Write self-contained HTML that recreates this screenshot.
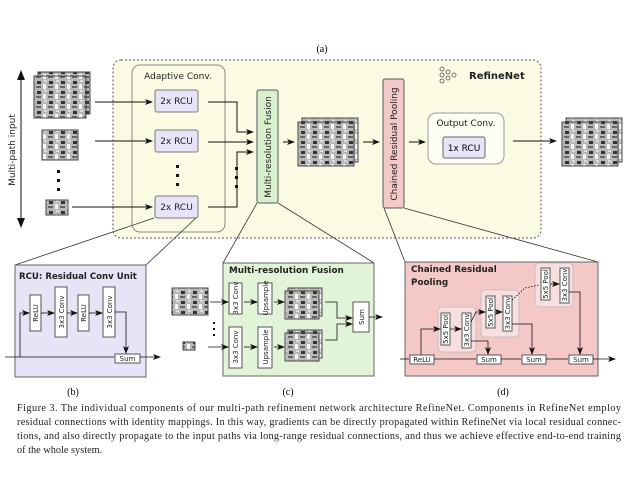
<!DOCTYPE html>
<html><head><meta charset="utf-8"><style>
html,body{margin:0;padding:0;background:#fff;}
svg{display:block;}
.s{font-family:"DejaVu Sans","Liberation Sans",sans-serif;}
.r{font-family:"Liberation Serif",serif;}
</style></head><body>
<svg width="640" height="480" viewBox="0 0 640 480" xmlns="http://www.w3.org/2000/svg">
<defs>
<marker id="a" markerWidth="8" markerHeight="6" refX="7" refY="3" orient="auto" markerUnits="userSpaceOnUse"><path d="M0,0 L8,3 L0,6 L2,3z" fill="#111"/></marker>
<pattern id="img" width="12" height="10" patternUnits="userSpaceOnUse"><rect width="12" height="10" fill="#b8b8b8"/><rect x="1" y="1" width="4" height="3" fill="#333"/><rect x="7" y="4" width="3" height="5" fill="#f4f4f4"/><rect x="0" y="6" width="5" height="2" fill="#666"/><rect x="8" y="0" width="3" height="2" fill="#ddd"/></pattern>
</defs>
<text x="322" y="52" class="r" font-size="10" text-anchor="middle">(a)</text>
<rect x="113" y="60" width="428" height="178" rx="8" fill="#fbfbe4" stroke="#555" stroke-dasharray="2,2"/>
<rect x="132" y="65" width="93" height="167" rx="8" fill="none" stroke="#888"/>
<text x="178" y="79" class="s" font-size="9" text-anchor="middle" fill="#222">Adaptive Conv.</text>
<g class="s" font-size="9" fill="#222" text-anchor="middle">
<rect x="155" y="90" width="43" height="22" rx="2" fill="#e8e4f8" stroke="#777"/><text x="176.5" y="104">2x RCU</text>
<rect x="155" y="130" width="43" height="22" rx="2" fill="#e8e4f8" stroke="#777"/><text x="176.5" y="144">2x RCU</text>
<rect x="155" y="196" width="43" height="22" rx="2" fill="#e8e4f8" stroke="#777"/><text x="176.5" y="210">2x RCU</text>
</g>
<g fill="#111"><rect x="176" y="165" width="3" height="3"/><rect x="176" y="174" width="3" height="3"/><rect x="176" y="183" width="3" height="3"/>
<rect x="235" y="167" width="3" height="3"/><rect x="235" y="176" width="3" height="3"/><rect x="235" y="185" width="3" height="3"/>
<rect x="57" y="170" width="3" height="3"/><rect x="57" y="179" width="3" height="3"/><rect x="57" y="188" width="3" height="3"/></g>
<rect x="38" y="72" width="52" height="42" fill="url(#img)" stroke="#444"/><rect x="34" y="76" width="52" height="42" fill="url(#img)" stroke="#444"/>
<rect x="42" y="130" width="36" height="30" fill="url(#img)" stroke="#444"/>
<rect x="46" y="200" width="22" height="15" fill="url(#img)" stroke="#444"/>
<g stroke="#111" fill="none" marker-end="url(#a)">
<line x1="95" y1="102" x2="152" y2="102"/><line x1="95" y1="141" x2="152" y2="141"/><line x1="72" y1="207" x2="152" y2="207"/>
<polyline points="208,102 237,102 237,132 253,132" /><line x1="208" y1="142" x2="253" y2="142"/><polyline points="208,207 237,207 237,152 253,152" />
<line x1="283" y1="142" x2="294" y2="142"/><line x1="363" y1="142" x2="379" y2="142"/><line x1="409" y1="142" x2="425" y2="142"/><line x1="513" y1="141" x2="556" y2="141"/>
</g>
<line x1="21" y1="74" x2="21" y2="224" stroke="#111"/><path d="M21,70 L17,80 L25,80z M21,228 L17,218 L25,218z" fill="#111"/>
<text transform="translate(15,150) rotate(-90)" class="s" font-size="9" text-anchor="middle" fill="#222">Multi-path input</text>
<rect x="257" y="90" width="21" height="113" rx="2" fill="#d8f0cc" stroke="#556"/>
<text transform="translate(271,147) rotate(-90)" class="s" font-size="9" text-anchor="middle" fill="#222">Multi-resolution Fusion</text>
<rect x="302" y="118" width="56" height="44" fill="url(#img)" stroke="#444"/><rect x="298" y="122" width="56" height="44" fill="url(#img)" stroke="#444"/>
<rect x="383" y="79" width="21" height="129" rx="2" fill="#f2c8c8" stroke="#655"/>
<text transform="translate(397,144) rotate(-90)" class="s" font-size="9" text-anchor="middle" fill="#222">Chained Residual Pooling</text>
<rect x="428" y="113" width="76" height="51" rx="8" fill="#fdfdf4" stroke="#999"/>
<text x="466" y="126" class="s" font-size="9" text-anchor="middle" fill="#222">Output Conv.</text>
<rect x="443" y="137" width="42" height="21" rx="2" fill="#e8e4f8" stroke="#666"/><text x="464" y="151" class="s" font-size="9" text-anchor="middle">1x RCU</text>
<g fill="none" stroke="#555" stroke-width="0.8"><circle cx="442" cy="69" r="2"/><circle cx="442" cy="75" r="2"/><circle cx="442" cy="81" r="2"/><circle cx="448" cy="72" r="2"/><circle cx="448" cy="78" r="2"/><circle cx="454" cy="75" r="2"/></g>
<text x="469" y="79" class="s" font-size="10" font-weight="bold" fill="#222">RefineNet</text>
<rect x="566" y="118" width="56" height="44" fill="url(#img)" stroke="#444"/><rect x="562" y="122" width="56" height="44" fill="url(#img)" stroke="#444"/>
<g stroke="#333" stroke-width="0.8"><line x1="154" y1="218" x2="15" y2="265"/><line x1="196" y1="218" x2="146" y2="265"/>
<line x1="257" y1="203" x2="223" y2="263"/><line x1="278" y1="203" x2="374" y2="263"/>
<line x1="384" y1="208" x2="405" y2="262"/><line x1="404" y1="208" x2="598" y2="262"/></g>
<rect x="15" y="265" width="131" height="112" fill="#e6e4f6" stroke="#666"/>
<text x="19" y="279" class="s" font-size="8.6" font-weight="bold" fill="#222">RCU: Residual Conv Unit</text>
<g class="s" font-size="7" fill="#222" text-anchor="middle">
<rect x="30" y="295" width="11" height="36" fill="#fff" stroke="#555"/><text transform="translate(38,313) rotate(-90)">ReLU</text>
<rect x="55" y="287" width="12" height="50" fill="#fff" stroke="#555"/><text transform="translate(64,312) rotate(-90)">3x3 Conv</text>
<rect x="78" y="295" width="11" height="36" fill="#fff" stroke="#555"/><text transform="translate(86,313) rotate(-90)">ReLU</text>
<rect x="103" y="287" width="12" height="50" fill="#fff" stroke="#555"/><text transform="translate(112,312) rotate(-90)">3x3 Conv</text>
<rect x="115" y="354" width="25" height="9" fill="#fff" stroke="#555"/><text x="127.5" y="361">Sum</text>
</g>
<g stroke="#111" fill="none" marker-end="url(#a)" stroke-width="0.8">
<polyline points="20,357 20,313 29,313"/><line x1="41" y1="313" x2="54" y2="313"/><line x1="67" y1="313" x2="77" y2="313"/><line x1="89" y1="313" x2="102" y2="313"/>
<polyline points="115,312 126,312 126,353"/><line x1="5" y1="357" x2="114" y2="357" marker-end="none"/><line x1="140" y1="357" x2="160" y2="357"/></g>
<text x="73" y="395" class="r" font-size="10" text-anchor="middle">(b)</text>
<rect x="172" y="288" width="36" height="27" fill="url(#img)" stroke="#444"/>
<rect x="183" y="342" width="12" height="8" fill="url(#img)" stroke="#444"/>
<g fill="#111"><rect x="213" y="322" width="2" height="2"/><rect x="213" y="328" width="2" height="2"/><rect x="213" y="334" width="2" height="2"/></g>
<rect x="223" y="263" width="151" height="113" fill="#e2f4d8" stroke="#666"/>
<text x="229" y="273" class="s" font-size="8.8" font-weight="bold" fill="#222">Multi-resolution Fusion</text>
<g class="s" font-size="7" fill="#222" text-anchor="middle">
<rect x="229" y="283" width="13" height="31" fill="#fff" stroke="#555"/><text transform="translate(238,298) rotate(-90)">3x3 Conv</text>
<rect x="229" y="327" width="13" height="41" fill="#fff" stroke="#555"/><text transform="translate(238,347) rotate(-90)">3x3 Conv</text>
<rect x="258" y="283" width="14" height="31" fill="#fff" stroke="#555"/><text transform="translate(268,298) rotate(-90)">Upsample</text>
<rect x="258" y="327" width="14" height="41" fill="#fff" stroke="#555"/><text transform="translate(268,347) rotate(-90)">Upsample</text>
<rect x="353" y="302" width="16" height="30" fill="#fff" stroke="#555"/><text transform="translate(364,317) rotate(-90)">Sum</text>
</g>
<rect x="288" y="288" width="34" height="28" fill="url(#img)" stroke="#444"/><rect x="285" y="291" width="34" height="28" fill="url(#img)" stroke="#444"/>
<rect x="288" y="330" width="34" height="28" fill="url(#img)" stroke="#444"/><rect x="285" y="333" width="34" height="28" fill="url(#img)" stroke="#444"/>
<g stroke="#111" fill="none" marker-end="url(#a)" stroke-width="0.8">
<line x1="210" y1="302" x2="228" y2="302"/><line x1="208" y1="347" x2="228" y2="347"/>
<line x1="244" y1="302" x2="257" y2="302"/><line x1="244" y1="347" x2="257" y2="347"/>
<line x1="274" y1="302" x2="284" y2="302"/><line x1="274" y1="347" x2="284" y2="347"/>
<polyline points="325,302 337,302 337,318 352,318"/><polyline points="325,340 337,340 337,324 352,324"/>
<line x1="369" y1="317" x2="382" y2="317"/></g>
<text x="288" y="395" class="r" font-size="10" text-anchor="middle">(c)</text>
<rect x="405" y="262" width="193" height="114" fill="#f5c8c8" stroke="#666"/>
<text x="411" y="272" class="s" font-size="8.8" font-weight="bold" fill="#222">Chained Residual</text>
<text x="411" y="285" class="s" font-size="8.8" font-weight="bold" fill="#222">Pooling</text>
<g fill="#f8dede" stroke="#bbb" stroke-width="0.8"><rect x="438" y="307" width="38" height="45" rx="4"/><rect x="481" y="290" width="38" height="47" rx="4"/><rect x="535" y="263" width="38" height="44" rx="4"/></g>
<g class="s" font-size="7" fill="#222" text-anchor="middle">
<rect x="441" y="313" width="9" height="32" fill="#fff" stroke="#555"/><text transform="translate(448,329) rotate(-90)">5x5 Pool</text>
<rect x="462" y="313" width="9" height="35" fill="#fff" stroke="#555"/><text transform="translate(469,330) rotate(-90)">3x3 Conv</text>
<rect x="486" y="296" width="9" height="32" fill="#fff" stroke="#555"/><text transform="translate(493,312) rotate(-90)">5x5 Pool</text>
<rect x="503" y="296" width="9" height="35" fill="#fff" stroke="#555"/><text transform="translate(510,313) rotate(-90)">3x3 Conv</text>
<rect x="541" y="268" width="9" height="32" fill="#fff" stroke="#555"/><text transform="translate(548,284) rotate(-90)">5x5 Pool</text>
<rect x="560" y="268" width="9" height="35" fill="#fff" stroke="#555"/><text transform="translate(567,285) rotate(-90)">3x3 Conv</text>
<rect x="410" y="355" width="24" height="9" fill="#fff" stroke="#555"/><text x="422" y="362">ReLU</text>
<rect x="477" y="355" width="24" height="9" fill="#fff" stroke="#555"/><text x="489" y="362">Sum</text>
<rect x="522" y="355" width="24" height="9" fill="#fff" stroke="#555"/><text x="534" y="362">Sum</text>
<rect x="569" y="355" width="24" height="9" fill="#fff" stroke="#555"/><text x="581" y="362">Sum</text>
</g>
<g stroke="#111" fill="none" stroke-width="0.8" marker-end="url(#a)">
<line x1="400" y1="359" x2="409" y2="359" marker-end="none"/><line x1="434" y1="359" x2="476" y2="359" marker-end="none"/><line x1="501" y1="359" x2="521" y2="359" marker-end="none"/><line x1="546" y1="359" x2="568" y2="359" marker-end="none"/>
<line x1="593" y1="359" x2="615" y2="359"/>
<polyline points="421,355 421,329 440,329"/><line x1="450" y1="329" x2="461" y2="329"/>
<polyline points="471,341 488,341 488,354"/><polyline points="471,322 476,312 485,312"/><line x1="495" y1="312" x2="502" y2="312"/>
<polyline points="512,324 532,324 532,354"/><line x1="550" y1="284" x2="559" y2="284"/>
<polyline points="569,292 580,292 580,354"/></g>
<polyline points="512,300 525,288 539,285" fill="none" stroke="#111" stroke-width="0.8" stroke-dasharray="1.5,1.5"/>
<text x="503" y="395" class="r" font-size="10" text-anchor="middle">(d)</text>
<g class="r" font-size="10.3" fill="#222">
<text x="17" y="411" textLength="604" lengthAdjust="spacing">Figure 3. The individual components of our multi-path refinement network architecture RefineNet.  Components in RefineNet employ</text>
<text x="17" y="425" textLength="604" lengthAdjust="spacing">residual connections with identity mappings. In this way, gradients can be directly propagated within RefineNet via local residual connec-</text>
<text x="17" y="439" textLength="604" lengthAdjust="spacing">tions, and also directly propagate to the input paths via long-range residual connections, and thus we achieve effective end-to-end training</text>
<text x="17" y="453">of the whole system.</text>
</g>
</svg>
</body></html>
